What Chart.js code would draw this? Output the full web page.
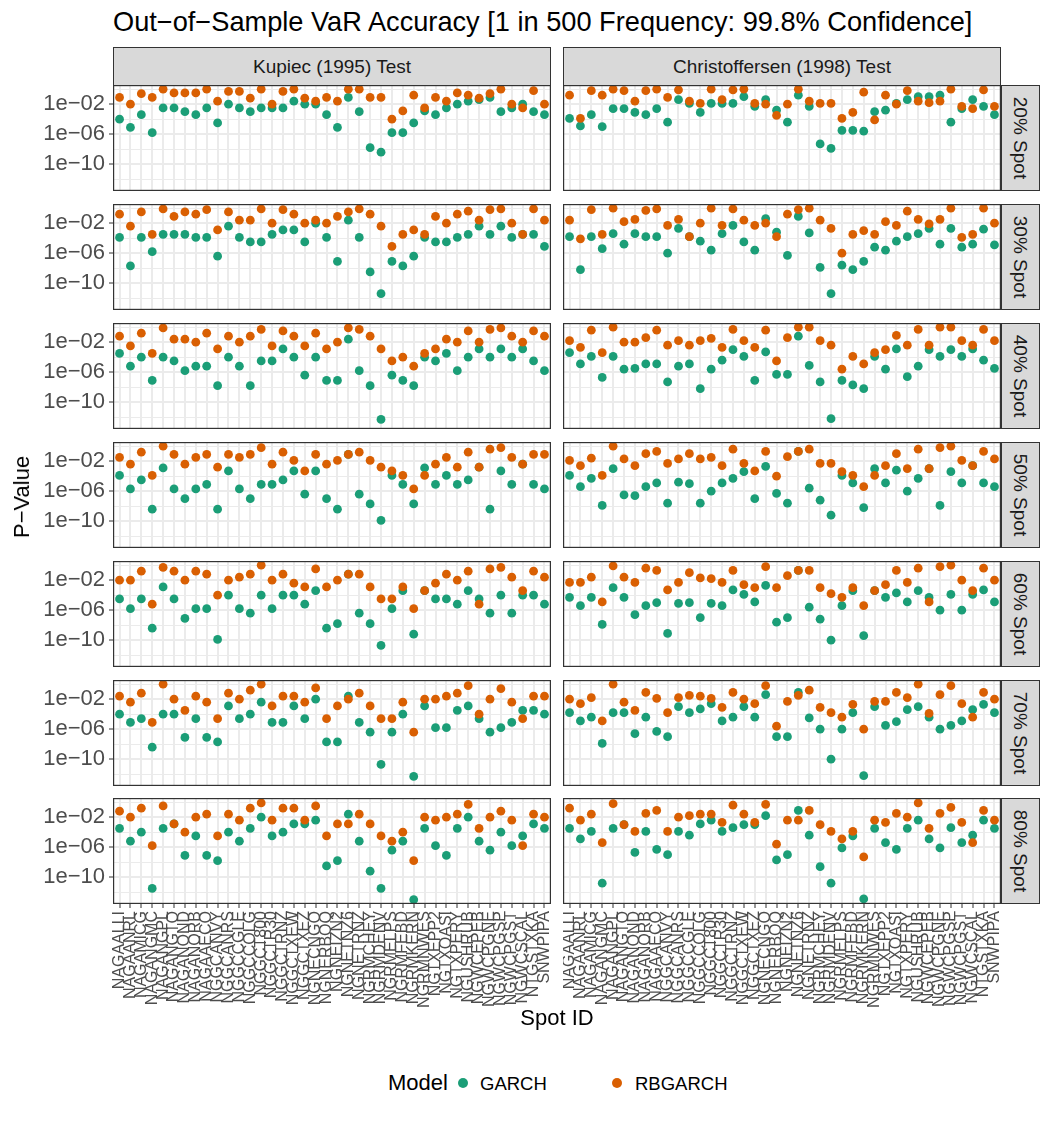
<!DOCTYPE html>
<html>
<head>
<meta charset="utf-8">
<script src="https://cdn.jsdelivr.net/npm/chart.js@4.4.1/dist/chart.umd.min.js"></script>
<style>
  body { margin: 0; background: #fff; font-family: "Liberation Sans", Arial, sans-serif; }
  #page { position: relative; width: 1050px; height: 1125px; overflow: hidden; background: #fff; }
  canvas { position: absolute; }
  .txt { position: absolute; white-space: nowrap; color: #000; line-height: 1; }
  .strip { position: absolute; box-sizing: border-box; background: #D9D9D9; border: 1px solid #333;
           display: flex; align-items: center; justify-content: center; color: #1A1A1A; font-size: 19px; }
  .strip.right span { transform: rotate(90deg); white-space: nowrap; }
  .dot { position: absolute; width: 10px; height: 10px; border-radius: 50%; }
</style>
</head>
<body>
<div id="page"></div>
<script>
// ---- data (values are log10 of the p-value) ----
const spotIds = ['NAGAALLI','NAGAANRL','NAGAMICG','NAGANGMC','NAGANGPL','NAGANGTO','NAGANOND','NAGANORB',
  'NAGAAECO','NGGCANVY','NGGCANRS','NGGCCGLE','NGGCCOLG','NGGCT800','NGGCTR30','NGGCTRNZ','NGGCTXEW',
  'NGGCTXEZ','NGNECNGO','NGNERBOQ','NGNEIZN2','NGNETNZ6','NGNETRNZ','NGRMCHEY','NGRMDENV','NGRMELPS',
  'NGRMFEBD','NGRMKERN','NGRMNWES','NGTXEPP2','NGTXOASI','NGTXPERY','NGUSHRUB','NGWCEPEB','NGWCPGNE',
  'NGWCPGSP','NGWCPGST','NGWCSCAL','NTGSTXKA','SNWPIPA'];
const spotLevels = ['20% Spot', '30% Spot', '40% Spot', '50% Spot', '60% Spot', '70% Spot', '80% Spot'];
const testNames = ['Kupiec (1995) Test', 'Christoffersen (1998) Test'];
const modelNames = ['GARCH', 'RBGARCH'];
const yTickValues = [-10, -6, -2];
const yTickLabels = ['1e\u221210', '1e\u221206', '1e\u221202'];

const kupiec20Garch = [-4,-5.1,-3.4,-5.8,-2.5,-2.5,-3,-3.4,-2.5,-4.5, -2,-2.5,-3,-2.5,-2.5,-2.5,-1.6,-2,-2,-3.4, -5.1,-1.1,-3,-7.8,-8.4,-5.8,-5.8,-4.5,-2.9,-3.4, -2.5,-2,-1.6,-1.4,-1.1,-3,-2.5,-2,-3,-3.4];
const kupiec20Rb = [-1.1,-2,-0.6,-1.1,0,-0.5,-0.5,-0.5,0,-1.6, -0.3,-0.3,-1.2,0,-2,-0.3,0,-1.2,-1.6,-1.1, -1.6,0,0,-1.1,-1.1,-4,-2.9,-0.8,-2.5,-1.1, -1.6,-0.5,-0.8,-1.2,-0.6,0,-2,-2.5,-0.2,-2];
const christ20Garch = [-3.9,-4.9,-3.4,-5,-2.6,-2.6,-3.1,-3.4,-2.6,-4.4, -1.4,-1.9,-3.1,-1.9,-1.9,-1.9,-1,-2.3,-1.4,-2.8, -4.4,-0.8,-2.3,-7.3,-7.9,-5.5,-5.5,-5.6,-3,-2.8, -1.9,-1.4,-1,-1,-0.8,-4.4,-2.6,-1.4,-2.3,-3.4];
const christ20Rb = [-0.8,-3.9,-0.2,-0.8,0,-0.2,-1.6,-0.2,0,-1.1, -0.1,-1.6,-1.9,0,-1.4,-0.1,0,-1.9,-2,-3.5, -2,0,-1.6,-1.9,-1.9,-3.9,-3.1,-0.4,-4.1,-0.8, -2,-0.2,-1.6,-1.8,-1.6,0,-2.3,-2.6,-0.1,-2.3];

const kupiec30Garch = [-3.9,-7.7,-3.9,-5.8,-3.5,-3.5,-3.5,-3.9,-3.9,-6.4, -2.4,-3.9,-4.5,-4.5,-3.5,-2.9,-2.9,-4.5,-2,-3.9, -7.1,-1.6,-3.9,-8.5,-11.4,-7.1,-7.7,-6.4,-3.9,-4.5, -4.5,-3.9,-3.5,-2.4,-3.5,-2.4,-3.9,-3.5,-3.5,-5.1];
const kupiec30Rb = [-0.8,-2.4,-0.5,-3.5,-0.1,-1.1,-0.5,-0.8,-0.2,-2.9, -0.5,-1.6,-1.6,-0.1,-2,-0.2,-0.8,-2,-1.6,-2, -1.1,-0.5,-0.1,-0.8,-2.4,-5.1,-3.5,-2.9,-3.5,-1.1, -2,-0.8,-0.4,-1.6,-0.2,-0.1,-2,-3.5,-0.1,-1.6];
const christ30Garch = [-3.8,-8.2,-3.8,-5.4,-3.4,-4.8,-3.4,-3.8,-3.8,-6, -2.7,-3.8,-4.4,-5.6,-3.4,-2.3,-4.5,-5.6,-1.4,-3.2, -6.3,-1.1,-3.3,-7.9,-11.4,-7.6,-8.2,-7.1,-5.2,-5.6, -4.4,-3.8,-3.4,-2.7,-4.8,-2.7,-5.2,-4.8,-2.8,-4.9];
const christ30Rb = [-1.6,-4.1,-0.2,-3.5,0,-1.8,-1.5,-0.3,-0.1,-2.3, -1.5,-3.8,-2,0,-2.3,-0.1,-1.6,-2.3,-2,-3.8, -0.8,-0.2,0,-1.6,-2.7,-6,-3.5,-3,-3.5,-1.8, -2.3,-0.4,-1.5,-2.1,-1.5,0,-3.9,-3.5,0,-2];

const kupiec40Garch = [-3.5,-5.2,-4,-7.1,-4,-4.5,-5.8,-5.2,-5.2,-7.8, -4,-5.2,-7.8,-4.5,-4.5,-2.9,-4,-6.4,-4,-7.1, -7.1,-1.6,-5.8,-7.8,-12.3,-6.4,-7.1,-7.8,-4,-4.5, -3.5,-5.8,-4,-2.9,-4,-2.9,-4,-2.9,-4.5,-5.8];
const kupiec40Rb = [-1.2,-2.5,-0.8,-3.5,-0.1,-1.6,-1.6,-2,-0.8,-2.9, -1.2,-2,-1.2,-0.3,-2.5,-0.5,-1.2,-2.5,-0.8,-2.9, -2,-0.1,-0.3,-1.2,-2.9,-4.5,-4,-5.2,-3.5,-2.9, -1.6,-2,-0.5,-2,-0.3,-0.1,-1.2,-2,-0.5,-1.2];
const christ40Garch = [-3.4,-4.9,-3.9,-6.7,-3.9,-5.6,-5.5,-4.9,-4.9,-7.3, -5.2,-4.9,-8.2,-5.6,-4.4,-3,-3.9,-7.1,-3.3,-6.3, -6.3,-1.2,-5.1,-7.3,-12.2,-7.1,-7.7,-8.2,-3.9,-5.6, -2.9,-6.6,-5.2,-3,-3.9,-3,-3.9,-2.9,-4.4,-5.5];
const christ40Rb = [-1.8,-2.7,-0.4,-3.4,0,-2,-2,-1.4,-0.4,-2.4, -1.8,-2.4,-1.8,-1.5,-2.7,-0.3,-1.8,-2.7,-0.4,-4.5, -1.4,0,0,-1.8,-2.4,-5.6,-3.9,-4.9,-3.4,-3, -1.1,-2.4,-0.3,-2.4,0,0,-1.8,-2.4,-0.3,-1.8];

const kupiec50Garch = [-3.9,-5.7,-4.5,-8.4,-2.9,-5.7,-7,-5.7,-5.1,-8.4, -3.3,-5.7,-7,-5.1,-5.1,-4.5,-3.3,-6.4,-3.3,-7, -8.4,-1.1,-6.4,-7.7,-9.9,-3.9,-5.1,-7.7,-2.9,-5.1, -3.9,-5.1,-4.5,-2.8,-8.4,-3.3,-5.1,-2.4,-5.1,-5.7];
const kupiec50Rb = [-1.5,-2.4,-0.8,-3.9,0,-1.1,-2.4,-1.5,-1.1,-2.8, -1.1,-1.5,-1.1,-0.2,-2.4,-0.8,-1.9,-3.3,-1.1,-2.4, -1.9,-1.1,-0.8,-1.9,-2.8,-3.3,-3.9,-5.7,-3.9,-2.4, -1.5,-2.8,-0.8,-2.8,-0.4,-0.2,-1.5,-2.4,-1.1,-1.1];
const christ50Garch = [-3.9,-5.4,-4.3,-7.9,-3,-6.5,-6.6,-5.4,-4.9,-7.6, -4.8,-5,-7.6,-6,-4.9,-4.3,-3.4,-7,-2.7,-6.3, -7.6,-0.7,-5.6,-7.2,-9.2,-3.9,-4.9,-8.2,-3,-4.9, -3.2,-6,-4.3,-3,-7.9,-3.4,-4.9,-2.6,-4.9,-5.4];
const christ50Rb = [-1.9,-2.6,-1.6,-3.9,0,-1.7,-2.6,-1,-0.7,-2.3, -1.7,-1,-1.7,-1.5,-2.6,-0.4,-2.3,-3.3,-0.7,-4, -1.4,-0.7,-0.4,-2.3,-2.3,-3.4,-3.9,-5.4,-3.9,-2.6, -1,-3,-0.4,-3,-0.2,0,-1.9,-2.6,-0.7,-1.7];

const kupiec60Garch = [-4.5,-5.8,-4.5,-8.4,-2.9,-4.5,-7.1,-5.8,-5.8,-9.9, -4,-5.8,-6.4,-4,-5.8,-4,-4,-5.2,-3.4,-8.4, -7.8,-1.2,-6.4,-7.8,-10.7,-5.8,-3.4,-9.2,-3.4,-4.5, -4.5,-5.2,-3.4,-4.5,-6.4,-4,-6.4,-4,-4,-5.2];
const kupiec60Rb = [-2,-2,-0.8,-5.2,-0.3,-0.8,-2,-0.8,-1.2,-4, -2,-1.6,-1.2,0,-2,-1.2,-2.4,-2.9,-0.5,-2.9, -2,-1.2,-1.2,-2.9,-4.5,-4.5,-2.9,-5.8,-3.4,-2.4, -1.2,-2,-0.8,-5.2,-0.5,-0.3,-1.6,-3.4,-0.8,-1.6];
const christ60Garch = [-4.3,-5.4,-4.3,-7.9,-3,-4.3,-6.6,-5.4,-5,-9.1, -5.1,-5,-7,-5.1,-5.4,-3.3,-3.9,-4.9,-2.7,-7.6, -7,-0.7,-5.6,-7.2,-10,-5.4,-3.4,-9.4,-3.4,-4.3, -3.7,-4.9,-3.4,-4.3,-6,-3.9,-6,-3.9,-3.3,-4.9];
const christ60Rb = [-2.3,-2.3,-1.6,-4.9,-0.1,-1.6,-2.3,-0.4,-0.7,-3.3, -2.3,-1,-1.7,-1.8,-2.3,-0.7,-2.6,-3,-0.2,-3, -1.4,-0.7,-0.7,-3,-3.8,-4.3,-3,-5.4,-3.4,-2.6, -0.7,-2.3,-0.4,-4.9,-0.2,0,-2,-3.4,-0.4,-2];

const kupiec70Garch = [-4,-5.1,-4.6,-8.4,-4,-4,-7.1,-4.6,-7.1,-7.7, -2.9,-4.6,-4,-2.4,-5.1,-5.1,-2.9,-4.6,-2,-7.7, -7.7,-1.6,-5.1,-6.4,-10.7,-6.4,-4,-12.3,-2.9,-5.8, -5.8,-3.5,-2.9,-4.6,-6.4,-5.8,-5.1,-3.5,-3.5,-4];
const kupiec70Rb = [-1.6,-2.4,-1.2,-5.1,0,-2,-3.5,-1.6,-2.4,-4.6, -1.2,-2,-0.8,0,-2.9,-1.6,-1.6,-2.4,-0.5,-4.6, -2.9,-2,-1.2,-2.9,-4.6,-4.6,-2.4,-6.4,-2,-2, -1.6,-1.2,-0.2,-4,-2,-0.6,-2.4,-4.6,-1.6,-1.6];
const christ70Garch = [-3.8,-4.9,-4.4,-7.9,-3.8,-3.8,-6.6,-4.4,-6.3,-7, -3,-3.8,-3.3,-2.6,-4.9,-4.4,-3,-4.4,-1.4,-7, -7,-1.1,-4.5,-6,-10,-6,-3.8,-12.2,-3,-5.5, -5,-3.4,-3,-4.4,-6,-5.5,-4.9,-3.4,-2.7,-3.8];
const christ70Rb = [-2,-2.6,-1.8,-4.9,0,-2.4,-3.5,-1.1,-1.9,-3.8, -1.8,-1.5,-1.6,-1.9,-3.1,-1.1,-2,-2.6,-0.2,-5.6, -2.3,-1.5,-0.8,-3.1,-3.8,-4.4,-2.7,-6,-2.3,-2.3, -1.1,-1.8,0,-3.9,-1.4,-0.2,-2.6,-4.4,-1.1,-2];

const kupiec80Garch = [-3.5,-5.2,-4,-11.5,-3.5,-2.9,-7.1,-4.5,-7.1,-7.8, -4,-5.2,-3.5,-2,-4.5,-4,-2.9,-2.9,-2.4,-8.5, -7.8,-1.6,-5.2,-9.2,-11.5,-6.4,-5.2,-13,-3.5,-5.8, -7.1,-3.5,-2,-5.2,-6.4,-4,-5.8,-4.5,-2.9,-3.5];
const kupiec80Rb = [-1.2,-2,-0.8,-5.8,-0.5,-2.9,-4,-2,-1.6,-4.5, -1.6,-2.4,-0.8,-0.1,-2.4,-0.8,-0.8,-2.4,-0.5,-4.5, -2.9,-2.9,-1.6,-2.9,-4.5,-5.2,-4,-7.8,-2,-2.4, -2,-1.6,-0.3,-3.5,-2,-1.2,-2.4,-5.8,-1.6,-2];
const christ80Garch = [-3.5,-4.9,-3.9,-10.8,-3.5,-3,-6.7,-3.9,-6.3,-7, -3.9,-4.4,-2.9,-2.4,-3.9,-3.4,-3,-3,-1.8,-7.7, -7,-1.1,-4.4,-8.6,-10.8,-6.1,-4.5,-12.9,-3.5,-5.4, -6.3,-3.5,-2.4,-4.9,-6.1,-3.4,-5.4,-4.4,-2.4,-3.5];
const christ80Rb = [-0.8,-2.4,-1.6,-5.4,-0.2,-3,-3.9,-1.5,-1.1,-3.9, -2,-1.8,-1.6,-1.6,-2.7,-0.4,-1.6,-2.7,-0.3,-5.6, -2.4,-2.4,-1.1,-3,-3.9,-4.9,-3.9,-7.3,-2.4,-2.7, -1.5,-2,-0.1,-3.5,-1.5,-0.7,-2.7,-5.4,-1.1,-2.4];

// [row][col] -> [garch, rbgarch]
const panels = [
  [[kupiec20Garch, kupiec20Rb], [christ20Garch, christ20Rb]],
  [[kupiec30Garch, kupiec30Rb], [christ30Garch, christ30Rb]],
  [[kupiec40Garch, kupiec40Rb], [christ40Garch, christ40Rb]],
  [[kupiec50Garch, kupiec50Rb], [christ50Garch, christ50Rb]],
  [[kupiec60Garch, kupiec60Rb], [christ60Garch, christ60Rb]],
  [[kupiec70Garch, kupiec70Rb], [christ70Garch, christ70Rb]],
  [[kupiec80Garch, kupiec80Rb], [christ80Garch, christ80Rb]]
];

// ---- layout ----
const GREEN = '#1B9E77', ORANGE = '#D95F02', GRID = '#EBEBEB';
const PANEL_X = [113, 563], PANEL_W = 438, PANEL_H = 106;
const Y_AXIS_W = 90, X_AXIS_H = 112;
const Y_MIN = -13.57, Y_MAX = 0.56;
const FONT = '"Liberation Sans", Arial, sans-serif';
const rowTop = r => 85 + Math.round(r * 118.9);

const page = document.getElementById('page');

function addText(str, css) {
  const d = document.createElement('div');
  d.className = 'txt';
  d.textContent = str;
  Object.assign(d.style, css);
  page.appendChild(d);
  return d;
}

const panelFrame = {
  id: 'panelFrame',
  afterDraw(chart) {
    const { ctx, chartArea: a } = chart;
    ctx.save();
    ctx.strokeStyle = '#333333';
    ctx.lineWidth = 1.2;
    ctx.strokeRect(a.left + 0.6, a.top + 0.6, a.right - a.left - 1.2, a.bottom - a.top - 1.2);
    ctx.restore();
  }
};

const isMajor = v => yTickValues.includes(v);

// pin a scale to a fixed size and drop the label overhang padding
function pinScale(s, size) {
  if (s.isHorizontal()) s.height = size; else s.width = size;
  s.paddingTop = 0; s.paddingBottom = 0; s.paddingLeft = 0; s.paddingRight = 0;
}

function makePanel(r, c) {
  const isLeft = c === 0;
  const isBottom = r === spotLevels.length - 1;
  const [garch, rb] = panels[r][c];
  const w = PANEL_W + (isLeft ? Y_AXIS_W : 0);
  const h = PANEL_H + (isBottom ? X_AXIS_H : 0);
  const canvas = document.createElement('canvas');
  canvas.width = w;
  canvas.height = h;
  canvas.style.width = w + 'px';
  canvas.style.height = h + 'px';
  canvas.style.left = (PANEL_X[c] - (isLeft ? Y_AXIS_W : 0)) + 'px';
  canvas.style.top = rowTop(r) + 'px';
  page.appendChild(canvas);

  const toPoints = arr => arr.map((v, i) => ({ x: i, y: v }));

  new Chart(canvas, {
    type: 'scatter',
    data: {
      datasets: [
        { label: modelNames[1], data: toPoints(rb), backgroundColor: ORANGE, borderWidth: 0,
          pointRadius: 4.4, pointHoverRadius: 4.4, order: 0 },
        { label: modelNames[0], data: toPoints(garch), backgroundColor: GREEN, borderWidth: 0,
          pointRadius: 4.4, pointHoverRadius: 4.4, order: 1 }
      ]
    },
    options: {
      responsive: false,
      animation: false,
      devicePixelRatio: 1,
      layout: { padding: 0, autoPadding: false },
      events: [],
      plugins: { legend: { display: false }, tooltip: { enabled: false } },
      scales: {
        x: {
          type: 'linear',
          min: -0.6,
          max: spotIds.length - 0.4,
          afterBuildTicks: s => { s.ticks = spotIds.map((_, i) => ({ value: i })); },
          afterFit: s => pinScale(s, isBottom ? X_AXIS_H : 0),
          border: { display: false },
          grid: { color: GRID, lineWidth: 2, drawTicks: isBottom, tickLength: 4,
                  tickColor: '#333333', tickWidth: 1 },
          ticks: { display: isBottom, autoSkip: false, minRotation: 90, maxRotation: 90, padding: 3,
                   color: '#4D4D4D', font: { family: FONT, size: 16 },
                   callback: v => spotIds[v] }
        },
        y: {
          min: Y_MIN,
          max: Y_MAX,
          afterBuildTicks: s => { s.ticks = [-12, -10, -8, -6, -4, -2, 0].map(v => ({ value: v })); },
          afterFit: s => pinScale(s, isLeft ? Y_AXIS_W : 0),
          border: { display: false },
          grid: { color: GRID,
                  lineWidth: ctx => (ctx.tick && isMajor(ctx.tick.value)) ? 2 : 1,
                  drawTicks: isLeft, tickLength: 4, tickWidth: 1,
                  tickColor: ctx => (ctx.tick && isMajor(ctx.tick.value)) ? '#333333' : 'rgba(0,0,0,0)' },
          ticks: { display: isLeft, autoSkip: false, padding: 4, color: '#4D4D4D',
                   font: { family: FONT, size: 22 },
                   callback: v => isMajor(v) ? yTickLabels[yTickValues.indexOf(v)] : '' }
        }
      }
    },
    plugins: [panelFrame]
  });
}

// strips
testNames.forEach((name, c) => {
  const s = document.createElement('div');
  s.className = 'strip';
  Object.assign(s.style, { left: PANEL_X[c] + 'px', top: '47px', width: PANEL_W + 'px', height: '39px' });
  s.textContent = name;
  page.appendChild(s);
});
spotLevels.forEach((name, r) => {
  const s = document.createElement('div');
  s.className = 'strip right';
  Object.assign(s.style, { left: (PANEL_X[1] + PANEL_W) + 'px', top: rowTop(r) + 'px', width: '39px', height: PANEL_H + 'px' });
  const sp = document.createElement('span');
  sp.textContent = name;
  s.appendChild(sp);
  page.appendChild(s);
});

for (let r = 0; r < spotLevels.length; r++) {
  for (let c = 0; c < testNames.length; c++) makePanel(r, c);
}

// titles
addText('Out\u2212of\u2212Sample VaR Accuracy [1 in 500 Frequency: 99.8% Confidence]',
  { left: '113px', top: '8px', fontSize: '27.2px' });
const yt = addText('P\u2212Value', { left: '22px', top: '497px', fontSize: '22px' });
yt.style.transform = 'translate(-50%, -50%) rotate(-90deg)';
const xt = addText('Spot ID', { left: '557px', top: '1018px', fontSize: '22px' });
xt.style.transform = 'translate(-50%, -50%)';

// legend
addText('Model', { left: '388px', top: '1072px', fontSize: '22px' });
[[GREEN, 463, modelNames[0], 480], [ORANGE, 617, modelNames[1], 635]].forEach(([col, dx, lab, lx]) => {
  const d = document.createElement('div');
  d.className = 'dot';
  Object.assign(d.style, { background: col, left: (dx - 5) + 'px', top: '1078px' });
  page.appendChild(d);
  addText(lab, { left: lx + 'px', top: '1075px', fontSize: '18.5px' });
});
</script>
</body>
</html>
